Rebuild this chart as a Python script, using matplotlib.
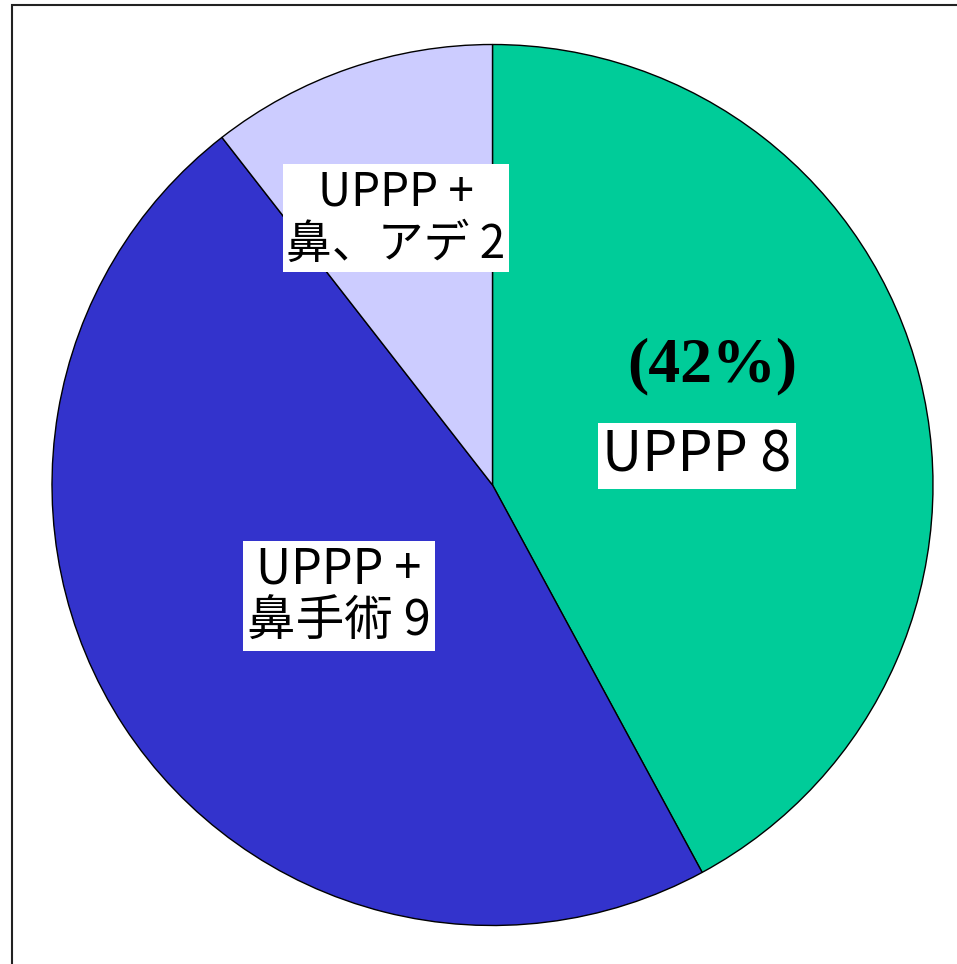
import matplotlib
matplotlib.use("Agg")
import matplotlib.pyplot as plt
from matplotlib.patches import Rectangle

categories = ["UPPP", "UPPP + 鼻手術", "UPPP + 鼻、アデ"]
values = [8, 9, 2]
colors = ["#00CC99", "#3333CC", "#CCCCFF"]
label_texts = ["UPPP 8", "UPPP +\n鼻手術 9", "UPPP +\n鼻、アデ 2"]
pct_text = "(42%)"

W, H = 957, 964
fig = plt.figure(figsize=(W / 100, H / 100), dpi=100)
fig.patch.set_facecolor("white")
ax = fig.add_axes([0, 0, 1, 1])
ax.set_xlim(0, W)
ax.set_ylim(0, H)
ax.set_aspect("equal")
ax.axis("off")

# frame
ax.add_patch(Rectangle((12, -20), W + 40, H - 5 + 20, fill=False,
                       edgecolor="#222222", linewidth=1.5, zorder=0))

cx, cy, r = 492.5, H - 485, 440.5
wedges, _ = ax.pie(values, colors=colors, startangle=90, counterclock=False,
                   center=(cx, cy), radius=r,
                   wedgeprops=dict(edgecolor="black", linewidth=1.0))
ax.set_xlim(0, W)
ax.set_ylim(0, H)
ax.axis("off")

jp = ["Noto Sans CJK JP", "DejaVu Sans"]
box = dict(facecolor="white", edgecolor="none", boxstyle="square,pad=0.08")

ax.text(697, H - 456, label_texts[0], ha="center", va="center",
        fontsize=40, family=jp, bbox=box, linespacing=1.0)
ax.text(339, H - 596, label_texts[1], ha="center", va="center",
        fontsize=35, family=jp, bbox=box, linespacing=1.08)
ax.text(396, H - 218, label_texts[2], ha="center", va="center",
        fontsize=33, family=jp, bbox=box, linespacing=1.1)
ax.text(712, H - 366, pct_text, ha="center", va="center",
        fontsize=46, family=["Liberation Serif"], fontweight="bold")

fig.savefig("out.png", dpi=100, facecolor="white")
